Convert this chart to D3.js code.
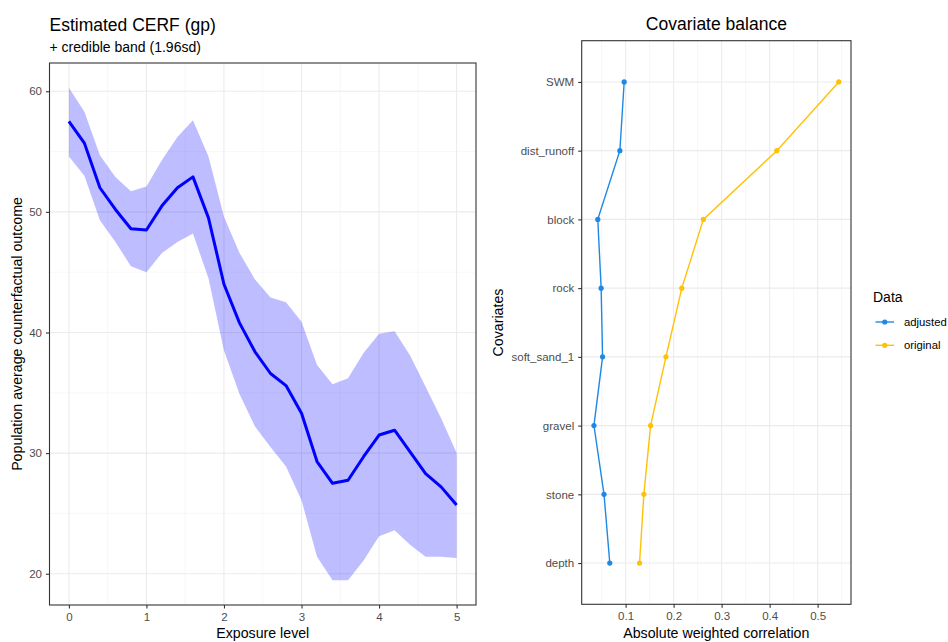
<!DOCTYPE html>
<html>
<head>
<meta charset="utf-8">
<script src="https://cdn.jsdelivr.net/npm/d3@7"></script>
<style>
  body { margin: 0; background: #fff; }
  svg text { font-family: "Liberation Sans", Arial, sans-serif; }
</style>
</head>
<body>
<svg id="chart" width="948" height="642"></svg>
<script>
// Estimated exposure-response curve (posterior mean and 1.96sd band)
const exposure = [0, 0.2, 0.4, 0.6, 0.8, 1.0, 1.2, 1.4, 1.6, 1.8, 2.0, 2.2, 2.4, 2.6, 2.8, 3.0, 3.2, 3.4, 3.6, 3.8, 4.0, 4.2, 4.4, 4.6, 4.8, 5.0];
const cerfMean = [57.5, 55.7, 52.0, 50.2, 48.6, 48.5, 50.5, 52.0, 52.9, 49.5, 44.0, 40.8, 38.4, 36.6, 35.6, 33.3, 29.3, 27.5, 27.75, 29.7, 31.5, 31.9, 30.1, 28.3, 27.2, 25.7];
const cerfUpper = [60.3, 58.3, 54.7, 52.9, 51.7, 52.1, 54.3, 56.2, 57.6, 54.6, 49.6, 46.6, 44.4, 42.9, 42.5, 40.9, 37.3, 35.7, 36.2, 38.3, 39.9, 40.1, 38.1, 35.5, 32.9, 30.0];
const cerfLower = [54.6, 53.0, 49.3, 47.5, 45.5, 45.0, 46.6, 47.5, 48.2, 44.5, 38.5, 34.9, 32.2, 30.5, 28.9, 26.1, 21.4, 19.45, 19.45, 21.1, 23.1, 23.6, 22.4, 21.4, 21.4, 21.3];
const exposureTicks = [0, 1, 2, 3, 4, 5];
const outcomeTicks = [20, 30, 40, 50, 60];

// Covariate balance: absolute weighted correlation per covariate
const covariates = ["depth", "stone", "gravel", "soft_sand_1", "rock", "block", "dist_runoff", "SWM"];
const adjustedCorr = [0.067, 0.055, 0.034, 0.052, 0.049, 0.042, 0.088, 0.097];
const originalCorr = [0.129, 0.138, 0.152, 0.184, 0.217, 0.262, 0.415, 0.544];
const corrTicks = [0.1, 0.2, 0.3, 0.4, 0.5];
const seriesNames = ["adjusted", "original"];
const seriesColors = ["#1E88E5", "#FFC107"];

const svg = d3.select("#chart");
const gridMajor = "#ebebeb", gridMinor = "#f2f2f2", tickText = "#4d4d4d", border = "#333333";
const tickFont = "11.5px", axisFont = "14.2px", titleFont = "17.5px";

function expandDomain(lo, hi, f) { const d = (hi - lo) * f; return [lo - d, hi + d]; }

// ---------- Left panel: CERF ----------
const L = { x0: 49.5, x1: 476, y0: 63, y1: 605 };
const xL = d3.scaleLinear().domain(expandDomain(d3.min(exposure), d3.max(exposure), 0.05)).range([L.x0, L.x1]);
const yL = d3.scaleLinear().domain(expandDomain(d3.min(cerfLower), d3.max(cerfUpper), 0.05)).range([L.y1, L.y0]);

const gL = svg.append("g");
// minor grid
const xMinorL = d3.range(0.5, 5, 1);
const yMinorL = [25, 35, 45, 55];
gL.selectAll(".xminor").data(xMinorL).join("line")
  .attr("x1", d => xL(d)).attr("x2", d => xL(d)).attr("y1", L.y0).attr("y2", L.y1)
  .attr("stroke", gridMinor).attr("stroke-width", 0.6);
gL.selectAll(".yminor").data(yMinorL).join("line")
  .attr("y1", d => yL(d)).attr("y2", d => yL(d)).attr("x1", L.x0).attr("x2", L.x1)
  .attr("stroke", gridMinor).attr("stroke-width", 0.6);
// major grid
gL.selectAll(".xmajor").data(exposureTicks).join("line")
  .attr("x1", d => xL(d)).attr("x2", d => xL(d)).attr("y1", L.y0).attr("y2", L.y1)
  .attr("stroke", gridMajor).attr("stroke-width", 1.1);
gL.selectAll(".ymajor").data(outcomeTicks).join("line")
  .attr("y1", d => yL(d)).attr("y2", d => yL(d)).attr("x1", L.x0).attr("x2", L.x1)
  .attr("stroke", gridMajor).attr("stroke-width", 1.1);

// credible band
const bandData = exposure.map((x, i) => ({ x, lo: cerfLower[i], hi: cerfUpper[i], m: cerfMean[i] }));
gL.append("path").datum(bandData)
  .attr("d", d3.area().x(d => xL(d.x)).y0(d => yL(d.lo)).y1(d => yL(d.hi)))
  .attr("fill", "#0000ff").attr("fill-opacity", 0.26);
// mean curve
gL.append("path").datum(bandData)
  .attr("d", d3.line().x(d => xL(d.x)).y(d => yL(d.m)))
  .attr("fill", "none").attr("stroke", "#0000ff").attr("stroke-width", 3).attr("stroke-linejoin", "round");

// border
gL.append("rect").attr("x", L.x0).attr("y", L.y0).attr("width", L.x1 - L.x0).attr("height", L.y1 - L.y0)
  .attr("fill", "none").attr("stroke", border).attr("stroke-width", 1.1);

// axes
const axL = gL.append("g").attr("transform", `translate(0,${L.y1})`)
  .call(d3.axisBottom(xL).tickValues(exposureTicks).tickFormat(d3.format("d")).tickSize(3.5).tickPadding(4));
const ayL = gL.append("g").attr("transform", `translate(${L.x0},0)`)
  .call(d3.axisLeft(yL).tickValues(outcomeTicks).tickSize(3.5).tickPadding(4));
[axL, ayL].forEach(a => {
  a.select(".domain").remove();
  a.selectAll(".tick line").attr("stroke", border).attr("stroke-width", 1.1);
  a.selectAll(".tick text").attr("fill", tickText).style("font-size", tickFont);
});

svg.append("text").attr("x", L.x0).attr("y", 31).text("Estimated CERF (gp)")
  .style("font-size", titleFont).attr("fill", "#000");
svg.append("text").attr("x", L.x0).attr("y", 52).text("+ credible band (1.96sd)")
  .style("font-size", "14px").attr("fill", "#000");
svg.append("text").attr("x", (L.x0 + L.x1) / 2).attr("y", 638).attr("text-anchor", "middle")
  .text("Exposure level").style("font-size", axisFont);
svg.append("text").attr("transform", `translate(22,${(L.y0 + L.y1) / 2}) rotate(-90)`)
  .attr("text-anchor", "middle").text("Population average counterfactual outcome").style("font-size", axisFont);

// ---------- Right panel: covariate balance ----------
const R = { x0: 581.7, x1: 851, y0: 40.7, y1: 604.3 };
const allCorr = adjustedCorr.concat(originalCorr);
const xR = d3.scaleLinear().domain(expandDomain(d3.min(allCorr), d3.max(allCorr), 0.05)).range([R.x0, R.x1]);
const yR = d3.scalePoint().domain(covariates).range([R.y1, R.y0]).padding(0.6);

const gR = svg.append("g");
const xMinorR = d3.range(0.05, 0.56, 0.1);
gR.selectAll(".xminor").data(xMinorR).join("line")
  .attr("x1", d => xR(d)).attr("x2", d => xR(d)).attr("y1", R.y0).attr("y2", R.y1)
  .attr("stroke", gridMinor).attr("stroke-width", 0.6);
gR.selectAll(".xmajor").data(corrTicks).join("line")
  .attr("x1", d => xR(d)).attr("x2", d => xR(d)).attr("y1", R.y0).attr("y2", R.y1)
  .attr("stroke", gridMajor).attr("stroke-width", 1.1);
gR.selectAll(".ymajor").data(covariates).join("line")
  .attr("y1", d => yR(d)).attr("y2", d => yR(d)).attr("x1", R.x0).attr("x2", R.x1)
  .attr("stroke", gridMajor).attr("stroke-width", 1.1);

[adjustedCorr, originalCorr].forEach((vals, s) => {
  const pts = covariates.map((c, i) => ({ c, v: vals[i] }));
  gR.append("path").datum(pts)
    .attr("d", d3.line().x(d => xR(d.v)).y(d => yR(d.c)))
    .attr("fill", "none").attr("stroke", seriesColors[s]).attr("stroke-width", 1.4);
  gR.selectAll(".pt" + s).data(pts).join("circle")
    .attr("cx", d => xR(d.v)).attr("cy", d => yR(d.c)).attr("r", 2.6)
    .attr("fill", seriesColors[s]);
});

gR.append("rect").attr("x", R.x0).attr("y", R.y0).attr("width", R.x1 - R.x0).attr("height", R.y1 - R.y0)
  .attr("fill", "none").attr("stroke", border).attr("stroke-width", 1.1);

const axR = gR.append("g").attr("transform", `translate(0,${R.y1})`)
  .call(d3.axisBottom(xR).tickValues(corrTicks).tickFormat(d3.format(".1f")).tickSize(3.5).tickPadding(4));
const ayR = gR.append("g").attr("transform", `translate(${R.x0},0)`)
  .call(d3.axisLeft(yR).tickSize(3.5).tickPadding(4));
[axR, ayR].forEach(a => {
  a.select(".domain").remove();
  a.selectAll(".tick line").attr("stroke", border).attr("stroke-width", 1.1);
  a.selectAll(".tick text").attr("fill", tickText).style("font-size", tickFont);
});

svg.append("text").attr("x", (R.x0 + R.x1) / 2).attr("y", 30).attr("text-anchor", "middle")
  .text("Covariate balance").style("font-size", titleFont);
svg.append("text").attr("x", (R.x0 + R.x1) / 2).attr("y", 638).attr("text-anchor", "middle")
  .text("Absolute weighted correlation").style("font-size", axisFont);
svg.append("text").attr("transform", `translate(503,${(R.y0 + R.y1) / 2}) rotate(-90)`)
  .attr("text-anchor", "middle").text("Covariates").style("font-size", axisFont);

// legend
const lg = svg.append("g").attr("transform", "translate(866,0)");
lg.append("text").attr("x", 7).attr("y", 302).text("Data").style("font-size", "14px");
seriesNames.forEach((name, i) => {
  const y = 322 + i * 23.3;
  lg.append("line").attr("x1", 9.5).attr("x2", 28).attr("y1", y).attr("y2", y)
    .attr("stroke", seriesColors[i]).attr("stroke-width", 1.4);
  lg.append("circle").attr("cx", 18.75).attr("cy", y).attr("r", 2.6).attr("fill", seriesColors[i]);
  lg.append("text").attr("x", 38).attr("y", y + 4).text(name).style("font-size", "11.3px").attr("fill", "#000");
});
</script>
</body>
</html>
